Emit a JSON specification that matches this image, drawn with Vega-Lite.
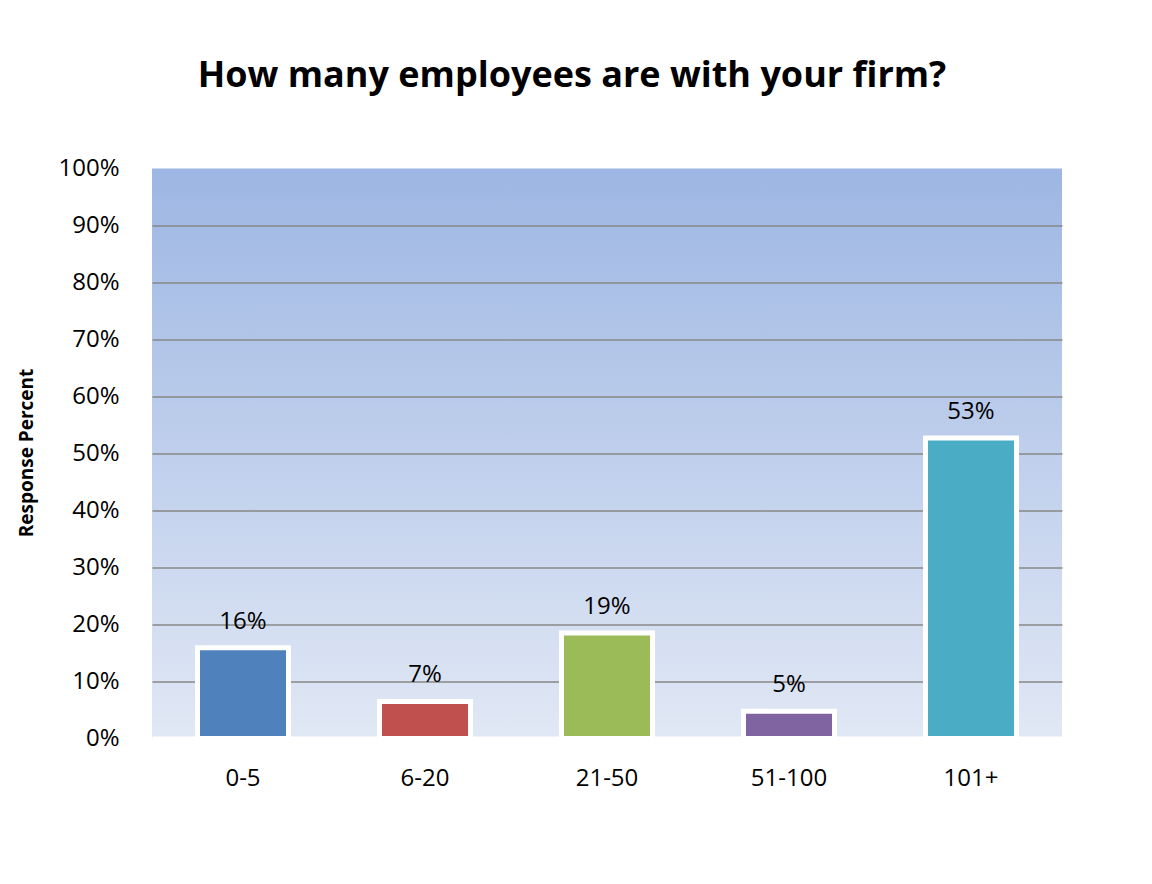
{
  "$schema": "https://vega.github.io/schema/vega-lite/v6.json",
  "width": 910,
  "height": 570,
  "autosize": {"type": "none"},
  "padding": {"left": 152, "top": 168.5, "right": 90, "bottom": 145.5},
  "background": "white",
  "title": {
    "text": "How many employees are with your firm?",
    "font": "Open Sans",
    "fontSize": 36,
    "fontWeight": "bold",
    "color": "black",
    "anchor": "middle",
    "baseline": "alphabetic",
    "dx": -35,
    "offset": 34
  },
  "data": {
    "values": [
      {"group": "0-5", "value": 15.9, "label": "16%"},
      {"group": "6-20", "value": 6.5, "label": "7%"},
      {"group": "21-50", "value": 18.5, "label": "19%"},
      {"group": "51-100", "value": 4.8, "label": "5%"},
      {"group": "101+", "value": 52.7, "label": "53%"}
    ]
  },
  "encoding": {
    "x": {
      "field": "group",
      "type": "nominal",
      "sort": null,
      "scale": {"paddingInner": 0.5, "paddingOuter": 0.25},
      "axis": {
        "title": null,
        "labelAngle": 0,
        "labelPadding": 28,
        "labelFont": "Open Sans",
        "labelFontSize": 24,
        "labelColor": "black",
        "ticks": false,
        "domain": true,
        "domainColor": "white",
        "domainWidth": 5,
        "zindex": 1
      }
    },
    "y": {
      "field": "value",
      "type": "quantitative",
      "scale": {"domain": [0, 100], "nice": false},
      "axis": {
        "values": [0, 10, 20, 30, 40, 50, 60, 70, 80, 90, 100],
        "labelExpr": "datum.value + '%'",
        "domain": false,
        "ticks": false,
        "labelPadding": 33,
        "labelFont": "Open Sans",
        "labelFontSize": 24,
        "labelColor": "black",
        "grid": true,
        "gridColor": "#878787",
        "gridWidth": 1.5,
        "gridOpacity": {"condition": {"test": "datum.value === 0 || datum.value === 100", "value": 0}, "value": 1},
        "title": "Response Percent",
        "titleFont": "Open Sans",
        "titleFontSize": 19,
        "titleFontWeight": "bold",
        "titleColor": "black",
        "titleAngle": -90,
        "titleX": -126,
        "titleY": 284,
        "titleAlign": "center",
        "titleBaseline": "middle"
      }
    }
  },
  "layer": [
    {
      "mark": {"type": "bar", "stroke": "white", "strokeWidth": 5},
      "encoding": {
        "color": {
          "field": "group",
          "type": "nominal",
          "sort": null,
          "scale": {
            "domain": ["0-5", "6-20", "21-50", "51-100", "101+"],
            "range": ["#4F81BD", "#C0504D", "#9BBB59", "#8064A2", "#4BACC6"]
          },
          "legend": null
        }
      }
    },
    {
      "mark": {
        "type": "text",
        "baseline": "alphabetic",
        "align": "center",
        "dy": -19,
        "font": "Open Sans",
        "fontSize": 24,
        "color": "black"
      },
      "encoding": {"text": {"field": "label", "type": "nominal"}}
    }
  ],
  "config": {
    "view": {
      "stroke": null,
      "fill": {
        "gradient": "linear",
        "x1": 0, "y1": 0, "x2": 0, "y2": 1,
        "stops": [
          {"offset": 0, "color": "#9DB6E3"},
          {"offset": 1, "color": "#E1E8F5"}
        ]
      }
    }
  }
}
